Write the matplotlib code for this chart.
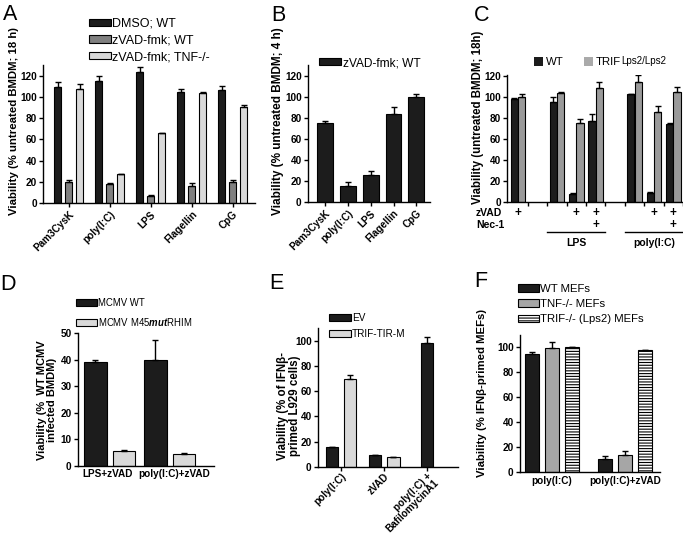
import numpy as np
import matplotlib.pyplot as plt
import matplotlib.transforms as mtransforms
from matplotlib.patches import Patch

plt.rcParams['font.family'] = 'Liberation Sans'
plt.rcParams['font.weight'] = 'bold'
plt.rcParams['mathtext.fontset'] = 'custom'
plt.rcParams['mathtext.rm'] = 'Liberation Sans'
plt.rcParams['mathtext.it'] = 'Liberation Sans:italic'
plt.rcParams['mathtext.bf'] = 'Liberation Sans:bold'
plt.rcParams['hatch.linewidth'] = 0.8

# ---- data ----
a_cats = ['Pam3CysK', 'poly(I:C)', 'LPS', 'Flagellin', 'CpG']
a_dmso = [109, 115, 123, 104.5, 106]
a_dmso_err = [5, 4.5, 5, 3, 4]
a_zvad = [19.5, 17.5, 6.5, 16, 20]
a_zvad_err = [2.5, 1.8, 1.3, 3, 1.8]
a_tnf = [107.5, 27, 65.5, 104, 90.5]
a_tnf_err = [5, 0.6, 0.6, 0.3, 2]

b_cats = ['Pam3CysK', 'poly(I:C)', 'LPS', 'Flagellin', 'CpG']
b_zvad = [74.5, 15, 25.5, 83.5, 100]
b_zvad_err = [2, 4, 4, 7, 2.5]

c_slots = [0, 2, 3, 4, 6, 7, 8]
c_wt = [98, 95, 8, 77, 102.5, 9, 74]
c_wt_err = [1.5, 5, 0.3, 6.5, 0.5, 0.3, 1]
c_trif = [100, 104, 75.5, 109, 114.5, 86, 105]
c_trif_err = [3, 1, 3.5, 5.5, 6.5, 5, 5]
c_zvad_rows = [0, 3, 4, 7, 8]
c_nec_rows = [4, 8]

d_cats = ['LPS+zVAD', 'poly(I:C)+zVAD']
d_wt = [39.1, 40]
d_wt_err = [0.6, 7.3]
d_mut = [5.7, 4.5]
d_mut_err = [0.3, 0.5]

e_cats = ['poly(I:C)', 'zVAD', 'poly(I:C) +\nBafilomycinA1']
e_ev = [15.5, 9.2, 98]
e_ev_err = [0.5, 0.6, 5]
e_trif = [70, 8]
e_trif_err = [2.5, 0.3]

f_cats = ['poly(I:C)', 'poly(I:C)+zVAD']
f_wt = [94.5, 10.5]
f_wt_err = [2, 2.6]
f_tnf = [99.5, 13.5]
f_tnf_err = [4.8, 3.7]
f_trif = [100.5, 98]
f_trif_err = [0, 0]

BLACK = '#1c1c1c'
GRAY = '#808080'
LIGHT = '#d9d9d9'
MID = '#9a9a9a'

W, H = 683, 533
fig = plt.figure(figsize=(W / 100, H / 100), dpi=100)


def box(l, t, r, b):
    return [l / W, 1 - b / H, (r - l) / W, (b - t) / H]


def fx(x):
    return x / W


def fy(y):
    return 1 - y / H


def style(ax):
    for s in ['top', 'right']:
        ax.spines[s].set_visible(False)
    for s in ['left', 'bottom']:
        ax.spines[s].set_linewidth(1.0)
    ax.tick_params(direction='out', length=3, width=1, labelsize=7.2, pad=1.5)


def bars(ax, x, h, err, w, color, hatch=None):
    ax.bar(x, h, w, color=color, edgecolor='k', linewidth=0.8, hatch=hatch,
           yerr=[np.zeros(len(err)), err], capsize=2.2,
           error_kw=dict(elinewidth=1, capthick=1, ecolor='k'))


def legend(ax, handles, labels, x, y, size, **kw):
    opts = dict(loc='upper left', bbox_to_anchor=(fx(x), fy(y)),
                bbox_transform=fig.transFigure, frameon=False,
                prop={'weight': 'normal', 'size': size}, handlelength=2.0,
                handleheight=0.6, handletextpad=0.12, labelspacing=0.45,
                borderpad=0, borderaxespad=0)
    opts.update(kw)
    ax.legend(handles, labels, **opts)


def ylab(x, y, s, size=8.5):
    fig.text(fx(x), fy(y), s, rotation=90, ha='center', va='center',
             fontsize=size, linespacing=1.05)


def letter(x, y, s):
    fig.text(fx(x), fy(y), s, ha='left', va='top', fontsize=15.5,
             fontweight='normal')


def patch(c, hatch=None):
    return Patch(facecolor=c, edgecolor='k', linewidth=0.8, hatch=hatch)


# ---- A ----
ax = fig.add_axes(box(43, 65, 255, 203))
x = np.arange(len(a_cats))
bars(ax, x - 0.27, a_dmso, a_dmso_err, 0.17, BLACK)
bars(ax, x, a_zvad, a_zvad_err, 0.17, GRAY)
bars(ax, x + 0.27, a_tnf, a_tnf_err, 0.17, LIGHT)
ax.set_xlim(-0.63, 4.54)
ax.set_ylim(0, 130)
ax.set_yticks(range(0, 121, 20))
ax.set_xticks(x)
ax.set_xticklabels(a_cats, rotation=45, ha='right', rotation_mode='anchor')
style(ax)
legend(ax, [patch(BLACK), patch(GRAY), patch(LIGHT)],
       ['DMSO; WT', 'zVAD-fmk; WT', 'zVAD-fmk; TNF-/-'], 89, 18, 9,
       handlelength=1.75, handleheight=0.55, labelspacing=0.36)
ylab(14, 121, 'Viability (% untreated BMDM; 18 h)', 8.2)
letter(3, 4, 'A')

# ---- B ----
ax = fig.add_axes(box(308, 65, 430, 202))
x = np.arange(len(b_cats))
bars(ax, x, b_zvad, b_zvad_err, 0.7, BLACK)
ax.set_xlim(-0.75, 4.6)
ax.set_ylim(0, 130)
ax.set_yticks(range(0, 121, 20))
ax.set_xticks(x)
ax.set_xticklabels(b_cats, rotation=45, ha='right', rotation_mode='anchor')
style(ax)
legend(ax, [patch(BLACK)], ['zVAD-fmk; WT'], 319, 57, 8.6,
       handlelength=1.85, handleheight=0.55)
ylab(278, 121, 'Viability (% untreated BMDM; 4 h)', 8.5)
letter(271, 5, 'B')

# ---- C ----
ax = fig.add_axes(box(507, 75, 683, 202))
cs = np.array(c_slots)
bars(ax, cs - 0.19, c_wt, c_wt_err, 0.37, BLACK)
bars(ax, cs + 0.19, c_trif, c_trif_err, 0.37, MID)
ax.set_xlim(-0.57, 8.5)
ax.set_ylim(0, 121)
ax.set_yticks(range(0, 121, 20))
ax.set_xticks(np.arange(0.5, 8.6, 1))
ax.set_xticklabels([])
style(ax)
tr = ax.get_xaxis_transform()
for s in c_zvad_rows:
    ax.text(s, -0.09, '+', transform=tr, ha='center', va='center', fontsize=8.5)
for s in c_nec_rows:
    ax.text(s, -0.185, '+', transform=tr, ha='center', va='center', fontsize=8.5)
ax.plot([1.5, 4.5], [-0.24, -0.24], transform=tr, color='k', lw=1, clip_on=False)
ax.plot([5.5, 8.5], [-0.24, -0.24], transform=tr, color='k', lw=1, clip_on=False)
ax.text(3, -0.32, 'LPS', transform=tr, ha='center', va='center', fontsize=7.5)
ax.text(7, -0.32, 'poly(I:C)', transform=tr, ha='center', va='center', fontsize=7.5)
fig.text(fx(476), fy(213), 'zVAD', ha='left', va='center', fontsize=7.5)
fig.text(fx(476), fy(225), 'Nec-1', ha='left', va='center', fontsize=7.5)
legend(ax, [Patch(facecolor=BLACK, edgecolor='none'),
            Patch(facecolor='#aaaaaa', edgecolor='none')],
       ['WT', 'TRIF'], 534, 57, 8.2, ncol=2,
       handlelength=0.75, handleheight=0.8, handletextpad=0.3,
       columnspacing=1.8)
fig.text(fx(621), fy(64.5), 'Lps2/Lps2', ha='left', va='baseline', fontsize=7,
         fontweight='normal')
ylab(478, 117, 'Viability (untreated BMDM; 18h)', 8.3)
letter(474, 5, 'C')

# ---- D ----
ax = fig.add_axes(box(78, 333, 214, 466))
x = np.arange(len(d_cats))
bars(ax, x - 0.24, d_wt, d_wt_err, 0.38, BLACK)
bars(ax, x + 0.24, d_mut, d_mut_err, 0.38, LIGHT)
ax.set_xlim(-0.525, 1.74)
ax.set_ylim(0, 50)
ax.set_yticks(range(0, 51, 10))
ax.set_xticks(x)
ax.set_xticklabels(d_cats, fontsize=7.4)
style(ax)
ax.tick_params(axis='x', length=0, pad=2)
for lab, dx in zip(ax.get_xticklabels(), [-2, 5]):
    lab.set_transform(lab.get_transform() + mtransforms.ScaledTranslation(
        dx / 100, 0, fig.dpi_scale_trans))
legend(ax, [patch(BLACK), patch(LIGHT)],
       ['MCMV WT', r'MCMV M45$\mathit{mut}$RHIM'], 76, 298, 6.9,
       handlelength=2.15, handleheight=0.75, labelspacing=0.8)
ylab(47, 400, 'Viability (%  WT MCMV\ninfected BMDM)', 8.0)
letter(0, 274, 'D')

# ---- E ----
ax = fig.add_axes(box(318, 328, 458, 467))
x = np.arange(len(e_cats))
ev_x = np.array([x[0] - 0.21, x[1] - 0.21, x[2]])
bars(ax, ev_x, e_ev, e_ev_err, 0.3, BLACK)
bars(ax, x[:2] + 0.21, e_trif, e_trif_err, 0.3, LIGHT)
ax.set_xlim(-0.535, 2.72)
ax.set_ylim(0, 110)
ax.set_yticks(range(0, 101, 20))
ax.set_xticks(x)
ax.set_xticklabels(e_cats, rotation=45, ha='right', rotation_mode='anchor',
                   fontsize=6.0, linespacing=0.9)
style(ax)
ax.tick_params(axis='x', pad=0)
legend(ax, [patch(BLACK), patch(LIGHT)], ['EV', 'TRIF-TIR-M'], 329, 313, 7.2,
       handlelength=2.15, handleheight=0.7, labelspacing=0.6)
ylab(289, 406, 'Viability (% of IFN\u03b2-\nprimed L929 cells)', 8.3)
letter(269, 273, 'E')

# ---- F ----
ax = fig.add_axes(box(520, 335, 660, 472))
x = np.arange(len(f_cats))
bars(ax, x - 0.27, f_wt, f_wt_err, 0.19, BLACK)
bars(ax, x, f_tnf, f_tnf_err, 0.19, '#a6a6a6')
bars(ax, x + 0.27, f_trif, f_trif_err, 0.19, 'white', hatch='------')
ax.set_xlim(-0.43, 1.47)
ax.set_ylim(0, 110)
ax.set_yticks(range(0, 101, 20))
ax.set_xticks(x)
ax.set_xticklabels(f_cats, fontsize=7.6)
style(ax)
ax.tick_params(axis='x', length=0, pad=3)
legend(ax, [patch(BLACK), patch('#a6a6a6'), patch('white', '------')],
       ['WT MEFs', 'TNF-/- MEFs', 'TRIF-/- (Lps2) MEFs'], 518, 284, 8.2,
       handlelength=1.85, handleheight=0.6, labelspacing=0.45)
ylab(482, 393, 'Viability (% IFN\u03b2-primed MEFs)', 8.2)
letter(474, 271, 'F')

plt.savefig('out.png', dpi=100)
